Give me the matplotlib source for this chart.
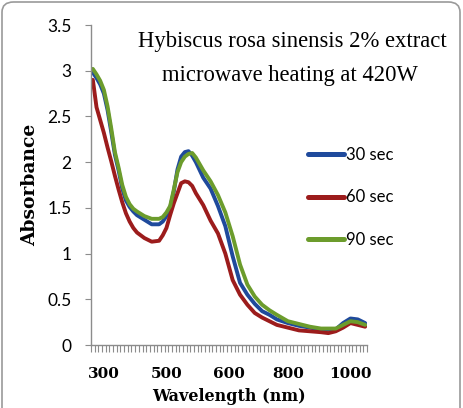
import matplotlib
matplotlib.use("Agg")
import matplotlib.pyplot as plt
from matplotlib.patches import FancyBboxPatch

# Excel-style categorical x axis with 75 categories; data at category indices
n_categories = 75
x_idx = [0, 1, 2, 3, 4, 5, 6, 7, 8, 9, 10, 11, 12, 14, 16, 18, 19, 20, 21, 22,
         23, 24, 25, 26, 27, 28, 30, 32, 34, 36, 38, 40, 42, 44, 46, 48, 50,
         53, 56, 59, 62, 64, 66, 68, 70, 72, 74]

abs_30 = [2.98, 2.92, 2.85, 2.75, 2.57, 2.33, 2.08, 1.91, 1.71, 1.58, 1.51,
          1.46, 1.42, 1.37, 1.32, 1.32, 1.35, 1.41, 1.50, 1.68, 1.92, 2.06,
          2.11, 2.12, 2.07, 2.00, 1.83, 1.71, 1.52, 1.30, 0.97, 0.68, 0.55,
          0.45, 0.37, 0.33, 0.28, 0.24, 0.21, 0.19, 0.17, 0.17, 0.17, 0.24,
          0.29, 0.28, 0.24]
abs_60 = [2.90, 2.60, 2.46, 2.32, 2.16, 2.01, 1.85, 1.70, 1.56, 1.44, 1.35,
          1.28, 1.23, 1.17, 1.13, 1.14, 1.20, 1.28, 1.42, 1.55, 1.66, 1.77,
          1.79, 1.78, 1.74, 1.66, 1.53, 1.36, 1.22, 1.00, 0.71, 0.55, 0.44,
          0.35, 0.30, 0.26, 0.22, 0.19, 0.16, 0.15, 0.14, 0.13, 0.15, 0.19,
          0.24, 0.22, 0.20]
abs_90 = [3.02, 2.96, 2.89, 2.79, 2.61, 2.37, 2.11, 1.94, 1.75, 1.62, 1.54,
          1.49, 1.46, 1.41, 1.38, 1.38, 1.40, 1.45, 1.52, 1.70, 1.89, 2.00,
          2.06, 2.09, 2.10, 2.05, 1.91, 1.79, 1.64, 1.45, 1.19, 0.88, 0.66,
          0.53, 0.44, 0.38, 0.33, 0.26, 0.23, 0.20, 0.18, 0.18, 0.18, 0.22,
          0.26, 0.25, 0.22]

series_labels = ["30 sec", "60 sec", "90 sec"]
series_colors = ["#1f4a9c", "#9c1c1c", "#6c9c2c"]

xtick_idx = [3, 20, 37, 53, 70]
xtick_labels = ["300", "500", "600", "800", "1000"]
yticks = [0, 0.5, 1, 1.5, 2, 2.5, 3, 3.5]
ytick_labels = ["0", "0.5", "1", "1.5", "2", "2.5", "3", "3.5"]

title_lines = ["Hybiscus rosa sinensis 2% extract", "microwave heating at 420W"]

fig = plt.figure(figsize=(4.63, 4.08), dpi=100)
W, H = 463, 408
ax = fig.add_axes([91 / W, 1 - 345 / H, (367 - 91) / W, (345 - 25) / H])

for ys, col, lab in zip([abs_30, abs_60, abs_90], series_colors, series_labels):
    ax.plot(x_idx, ys, color=col, lw=2.8, solid_capstyle="round",
            solid_joinstyle="round", label=lab)

ax.set_xlim(-0.5, n_categories - 0.5)
ax.set_ylim(0, 3.5)

for s in ["top", "right"]:
    ax.spines[s].set_visible(False)
for s in ["left", "bottom"]:
    ax.spines[s].set_color("#8c8c8c")
    ax.spines[s].set_linewidth(1.0)

ax.set_yticks(yticks)
ax.set_yticklabels(ytick_labels, fontfamily="Lato", fontsize=12.5)
ax.tick_params(axis="y", direction="out", length=4, color="#8c8c8c", pad=10)

ax.set_xticks([i - 0.5 for i in range(n_categories + 1)], minor=True)
ax.set_xticks(xtick_idx)
ax.set_xticklabels(xtick_labels, fontfamily="DejaVu Serif", fontweight="bold",
                   fontsize=11)
ax.tick_params(axis="x", which="major", length=0, pad=16)
ax.tick_params(axis="x", which="minor", direction="out", length=5,
               color="#8c8c8c", width=0.8)

ax.set_ylabel("Absorbance", fontfamily="DejaVu Serif", fontweight="bold",
              fontsize=13.5, labelpad=6)
ax.set_xlabel("Wavelength (nm)", fontfamily="DejaVu Serif", fontweight="bold",
              fontsize=11.5, labelpad=5)

fig.text(292 / W, 1 - 41 / H, title_lines[0], ha="center", va="center",
         fontfamily="Liberation Serif", fontsize=16.3)
fig.text(290 / W, 1 - 75 / H, title_lines[1], ha="center", va="center",
         fontfamily="Liberation Serif", fontsize=16.3)

leg = ax.legend(loc="upper left", bbox_to_anchor=(210 / 276, 1 - 115 / 320),
                frameon=False, handlelength=2.2, handletextpad=0.1,
                labelspacing=1.6, borderaxespad=0,
                prop={"family": "Lato", "size": 12})
for line in leg.get_lines():
    line.set_linewidth(3.6)

border = FancyBboxPatch((2 / W, -0.05), (W - 5) / W, 1.05 - 2 / H,
                        boxstyle="round,pad=0,rounding_size=0.025",
                        transform=fig.transFigure, facecolor="none",
                        edgecolor="#9a9a9a", lw=1.2, clip_on=False)
fig.patches.append(border)

fig.savefig("out.png", dpi=100)
